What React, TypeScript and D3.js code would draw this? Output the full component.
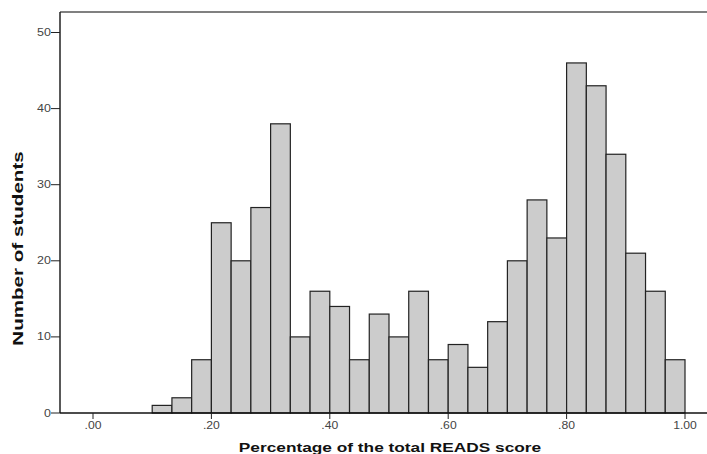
import React from "react";
import * as d3 from "d3";

const binStart = 0.1;
const binWidth = 1 / 30;
const counts = [1, 2, 7, 25, 20, 27, 38, 10, 16, 14, 7, 13, 10, 16, 7, 9, 6, 12, 20, 28, 23, 46, 43, 34, 21, 16, 7];
const xTicks = [0, 0.2, 0.4, 0.6, 0.8, 1.0];
const xTickLabels = [".00", ".20", ".40", ".60", ".80", "1.00"];
const yTicks = [0, 10, 20, 30, 40, 50];
const xTitle = "Percentage of the total READS score";
const yTitle = "Number of students";

export default function App() {
  const W = 707, H = 454;
  const left = 60, right = 707, top = 12, bottom = 413;
  const x = d3.scaleLinear().domain([0, 1]).range([93, 685]);
  const y = d3.scaleLinear().domain([0, 50]).range([bottom, 32.5]);
  const font = "Arial, 'Liberation Sans', Helvetica, sans-serif";
  return (
    <svg width={W} height={H} style={{ position: "absolute", left: 0, top: 0 }}>
      <rect width={W} height={H} fill="#fff" />
      <line x1={left} x2={right} y1={top} y2={top} stroke="#808080" strokeWidth={2} />
      {counts.map((c, i) => {
        const x0 = x(binStart + i * binWidth);
        const x1 = x(binStart + (i + 1) * binWidth);
        return (
          <rect key={i} x={x0} y={y(c)} width={x1 - x0} height={y(0) - y(c)}
            fill="#cccccc" stroke="#222" strokeWidth={1.2} />
        );
      })}
      <line x1={left} x2={left} y1={top} y2={bottom} stroke="#222" strokeWidth={1.5} />
      <line x1={left} x2={right} y1={bottom} y2={bottom} stroke="#111" strokeWidth={1.5} />
      {yTicks.map((t) => (
        <g key={t}>
          <line x1={left - 9} x2={left} y1={y(t)} y2={y(t)} stroke="#222" strokeWidth={1} />
          <text transform={`translate(${left - 9},${y(t)}) scale(1.25,1)`} dy="0.35em" textAnchor="end" fontSize={10} fill="#444" fontFamily={font}>{t}</text>
        </g>
      ))}
      {xTicks.map((t, i) => (
        <g key={t}>
          <line x1={x(t)} x2={x(t)} y1={bottom} y2={bottom + 6} stroke="#222" strokeWidth={1} />
          <text transform={`translate(${x(t)},${bottom + 12}) scale(1.22,1)`} dy="0.35em" textAnchor="middle" fontSize={10} fill="#444" fontFamily={font}>{xTickLabels[i]}</text>
        </g>
      ))}
      <text transform={`translate(390,447) scale(1.28,1)`} dy="0.35em" textAnchor="middle" fontSize={13.5} fontWeight="bold" fill="#111" fontFamily={font}>{xTitle}</text>
      <text transform={`translate(18,248.5) rotate(-90) scale(1.33,1)`} dy="0.35em" textAnchor="middle" fontSize={15.5} fontWeight="bold" fill="#111" fontFamily={font}>{yTitle}</text>
    </svg>
  );
}
